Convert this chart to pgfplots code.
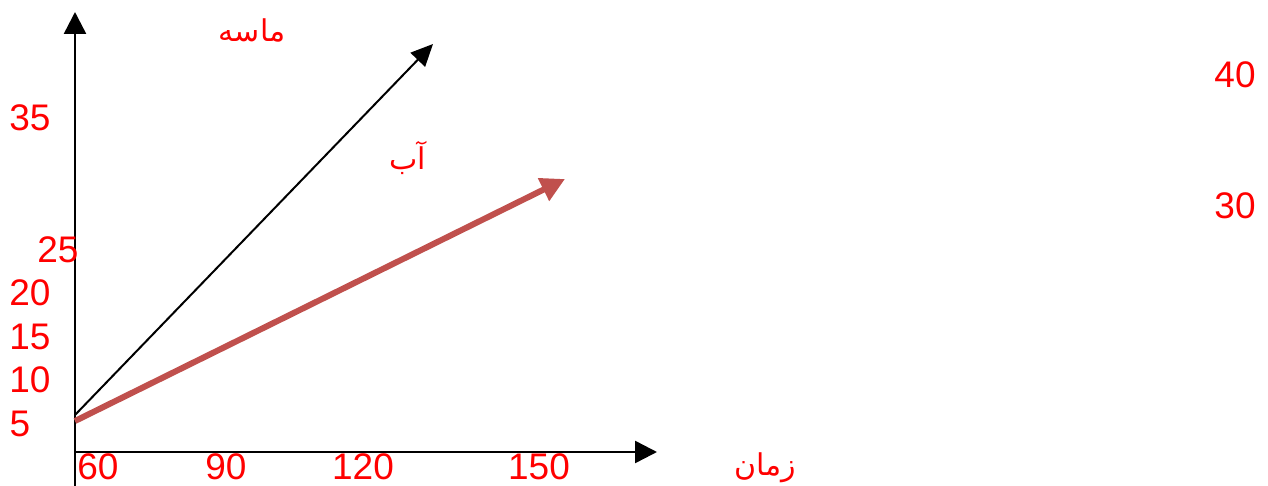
\documentclass[border=0pt]{standalone}
\usepackage{fontspec}
\setmainfont{Liberation Sans}
\newfontfamily\arabicfont[Script=Arabic]{DejaVu Sans}
\TeXXeTstate=1
\usepackage{pgfplots}
\pgfplotsset{compat=1.18}
\usetikzlibrary{arrows.meta}

\definecolor{lblred}{HTML}{FF0000}
\definecolor{water}{HTML}{C0504D}

\tikzset{lbl/.style={text=lblred, font=\fontsize{18.5}{20}\selectfont, inner sep=0pt},
         fa/.style={text=lblred, font=\arabicfont\fontsize{15}{17}\selectfont, inner sep=0pt}}

% drawing is laid out in image pixels (1268 x 486), y counted from the top
\begin{document}
\begin{tikzpicture}
\begin{axis}[
    hide axis, scale only axis, clip=false,
    width=634pt, height=243pt,
    xmin=0, xmax=1268, ymin=0, ymax=486, y dir=reverse,
]
% axes
\addplot[black, line width=1.25pt, -{Triangle[length=11pt, width=11pt]}] coordinates {(75,486) (75,12)};
\addplot[black, line width=1.25pt, -{Triangle[length=11pt, width=11pt]}] coordinates {(75,452) (657,452)};
% sand (black) and water (red)
\addplot[black, line width=1pt, -{Triangle[length=11pt, width=10pt]}] coordinates {(75,415) (433,44)};
\addplot[water, line width=3pt, -{Triangle[length=12pt, width=12pt]}] coordinates {(75,421) (565,179)};

% left labels
\node[lbl] at (axis cs:30,118) {35};
\node[lbl] at (axis cs:58,250) {25};
\node[lbl] at (axis cs:30,293) {20};
\node[lbl] at (axis cs:30,337) {15};
\node[lbl] at (axis cs:30,380) {10};
\node[lbl] at (axis cs:20,424) {5};
% bottom labels
\node[lbl] at (axis cs:98,467) {60};
\node[lbl] at (axis cs:226,467) {90};
\node[lbl] at (axis cs:363,467) {120};
\node[lbl] at (axis cs:539,467) {150};
% right labels
\node[lbl] at (axis cs:1235,75) {40};
\node[lbl] at (axis cs:1235,206) {30};
% Persian labels
\node[fa] at (axis cs:252,30) {\beginR ماسه\endR};
\node[fa] at (axis cs:408,158) {\beginR آب\endR};
\node[fa] at (axis cs:765,468) {\beginR زمان\endR};
\end{axis}
\pgfresetboundingbox
\path (0,0) rectangle (634pt,243pt);
\end{tikzpicture}
\end{document}
